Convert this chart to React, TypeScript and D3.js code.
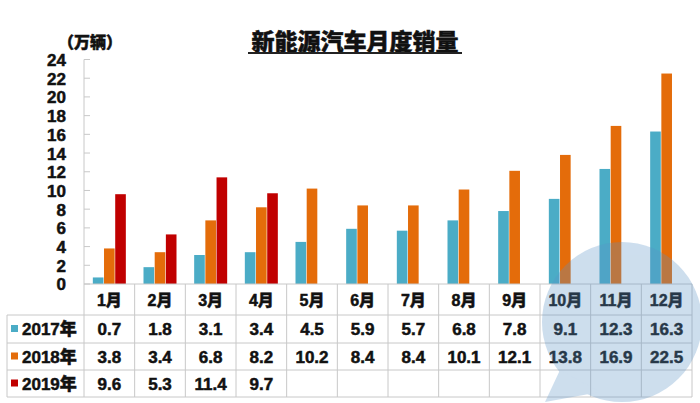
import React from "react";
import * as d3 from "d3";

const months = ["1月", "2月", "3月", "4月", "5月", "6月", "7月", "8月", "9月", "10月", "11月", "12月"];
const years = ["2017年", "2018年", "2019年"];
const sales2017 = [0.7, 1.8, 3.1, 3.4, 4.5, 5.9, 5.7, 6.8, 7.8, 9.1, 12.3, 16.3];
const sales2018 = [3.8, 3.4, 6.8, 8.2, 10.2, 8.4, 8.4, 10.1, 12.1, 13.8, 16.9, 22.5];
const sales2019: (number | null)[] = [9.6, 5.3, 11.4, 9.7, null, null, null, null, null, null, null, null];
const yTicks = [0, 2, 4, 6, 8, 10, 12, 14, 16, 18, 20, 22, 24];
const colors = ["#4BACC6", "#E46C0A", "#C00000"];
const title = "新能源汽车月度销量";
const unit = "（万辆）";

const series = [sales2017, sales2018, sales2019];

const FONT = "'Liberation Sans', Arial, 'Noto Sans CJK SC', sans-serif";

export default function App() {
  const W = 700, H = 403;
  const left = 84, right = 692;
  const y = d3.scaleLinear().domain([0, 24]).range([284, 59.5]);
  const x = d3.scaleBand<string>().domain(months).range([left, right]).padding(0);
  const slot = d3.scaleBand<string>().domain(years).range([-16.5, 16.5]).paddingInner(0.05);
  const rowTops = [284, 315, 343, 370, 397];
  const labelLeft = 7;
  const grid = "#c8c8c8";
  const heavy = { fontWeight: 900, stroke: "#111", strokeWidth: 0.5, fill: "#111" } as const;

  return (
    <svg width={W} height={H} style={{ position: "absolute", left: 0, top: 0, background: "#fff" }} fontFamily={FONT}>
      <rect width={W} height={H} fill="#fff" />

      {/* title */}
      <text x={355} y={50} textAnchor="middle" fontSize={23} {...heavy}>{title}</text>
      <line x1={248} x2={462} y1={53} y2={53} stroke="#222" strokeWidth={2} />
      <text x={58} y={48} fontSize={16} {...heavy}>{unit}</text>

      {/* y axis */}
      <line x1={left} x2={left} y1={y(24)} y2={284} stroke={grid} />
      {yTicks.map((t) => (
        <g key={t}>
          <line x1={left} x2={left + 6} y1={y(t)} y2={y(t)} stroke={grid} />
          <text x={66} y={y(t)} dy="0.38em" textAnchor="end" fontSize={17} {...heavy}>{t}</text>
        </g>
      ))}

      {/* bars */}
      {months.map((m, i) => (
        <g key={m}>
          {series.map((s, k) => {
            const v = s[i];
            if (v == null) return null;
            const cx = (x(m) as number) + x.bandwidth() / 2;
            return (
              <rect key={k} x={cx + (slot(years[k]) as number)} width={slot.bandwidth()} y={y(v)} height={y(0) - y(v)} fill={colors[k]} />
            );
          })}
        </g>
      ))}

      {/* table grid */}
      <line x1={left} x2={right} y1={284} y2={284} stroke={grid} />
      {rowTops.slice(1).map((ry) => (
        <line key={ry} x1={labelLeft} x2={right} y1={ry} y2={ry} stroke={grid} />
      ))}
      <line x1={labelLeft} x2={labelLeft} y1={315} y2={397} stroke={grid} />
      {months.map((m) => (
        <line key={m} x1={x(m) as number} x2={x(m) as number} y1={284} y2={397} stroke={grid} />
      ))}
      <line x1={right} x2={right} y1={284} y2={397} stroke={grid} />

      {/* month header */}
      {months.map((m) => (
        <text key={m} x={(x(m) as number) + x.bandwidth() / 2} y={300} dy="0.36em" textAnchor="middle" fontSize={16} {...heavy}>{m}</text>
      ))}

      {/* rows */}
      {series.map((s, k) => {
        const cy = (rowTops[k + 1] + rowTops[k + 2]) / 2;
        return (
          <g key={k}>
            <rect x={11} y={cy - 4} width={7} height={7} fill={colors[k]} />
            <text x={22} y={cy} dy="0.36em" fontSize={17} {...heavy}>{years[k]}</text>
            {s.map((v, i) =>
              v == null ? null : (
                <text key={i} x={(x(months[i]) as number) + x.bandwidth() / 2} y={cy} dy="0.36em" textAnchor="middle" fontSize={17} {...heavy}>{v.toFixed(1)}</text>
              )
            )}
          </g>
        );
      })}

      {/* watermark (on top, translucent) */}
      <g opacity={0.3} pointerEvents="none">
        <circle cx={622} cy={322} r={80} fill="#5b93c7" />
        <path d="M 560 370 L 545 402 L 600 392 Z" fill="#5b93c7" />
      </g>
    </svg>
  );
}
